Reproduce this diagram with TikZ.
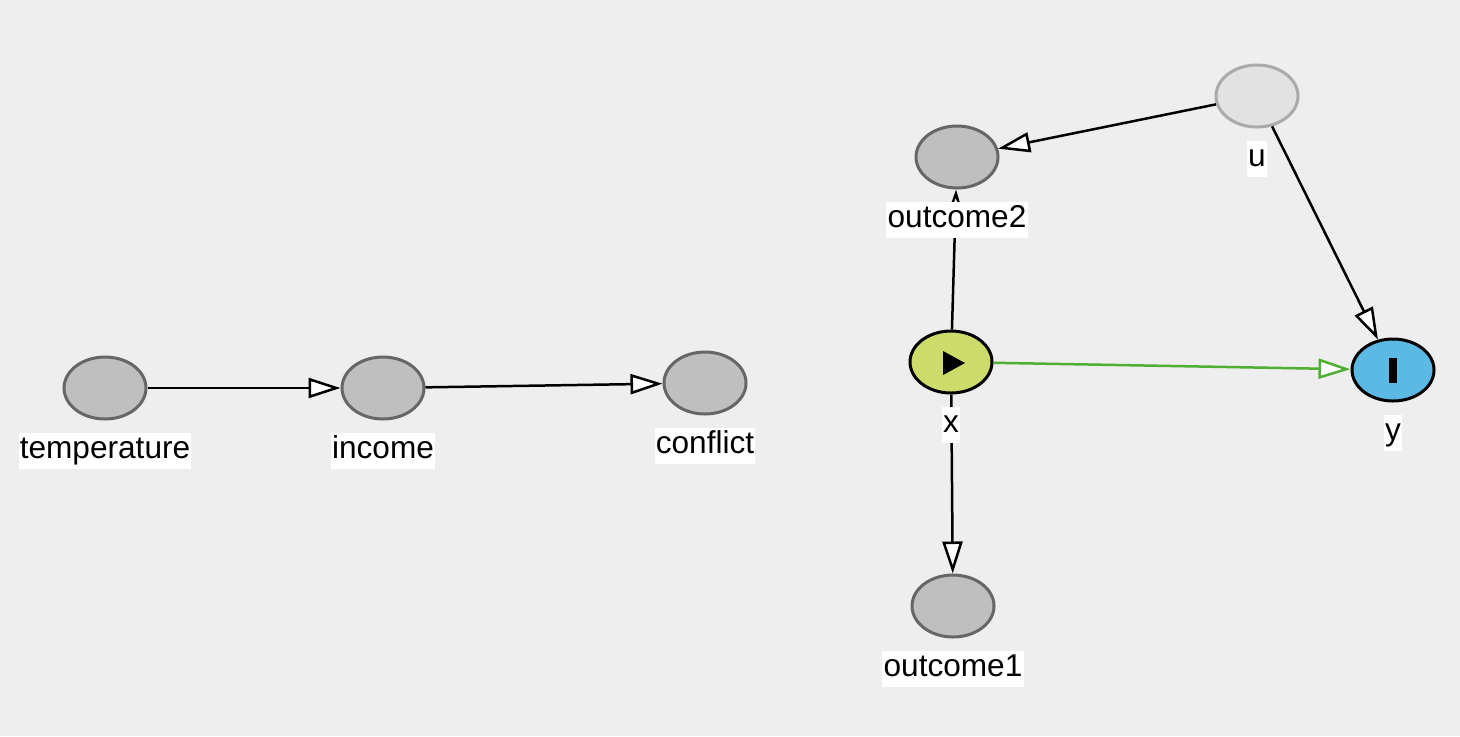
\documentclass[tikz,border=0pt]{standalone}
\usepackage{fontspec}
\setmainfont{Liberation Sans}
\usepackage{xcolor}
\usetikzlibrary{arrows.meta,positioning,shapes.geometric,calc}

\definecolor{bgcol}{HTML}{EEEEEE}
\definecolor{nodefill}{HTML}{BFBFBF}
\definecolor{nodeline}{HTML}{666666}
\definecolor{latfill}{HTML}{E2E2E2}
\definecolor{latline}{HTML}{AAAAAA}
\definecolor{expfill}{HTML}{CDDB6A}
\definecolor{outfill}{HTML}{5BB9E3}
\definecolor{causal}{HTML}{4FAF32}

\begin{document}
\begin{tikzpicture}[x=0.5pt,y=-0.5pt,>={Triangle[length=16pt,width=10pt,fill=white]},
  var/.style={ellipse,minimum width=41pt,minimum height=31pt,line width=1.5pt,
    draw=nodeline,fill=nodefill},
  latent/.style={var,draw=latline,fill=latfill},
  exposure/.style={var,draw=black,fill=expfill},
  outcome/.style={var,draw=black,fill=outfill},
  edge/.style={->,line width=1.25pt,black},
  lbl/.style={fill=white,inner xsep=0.6pt,inner ysep=1.5pt,text height=11.5pt,
    text depth=3.5pt,font=\fontsize{15.8}{18}\selectfont}]
  % background
  \fill[bgcol] (0,0) rectangle (1460,736);

  % variables
  \node[var] (temperature) at (105,388) {};
  \node[var] (income) at (383,388) {};
  \node[var] (conflict) at (705,383) {};
  \node[var] (outcome2) at (957,157) {};
  \node[latent] (u) at (1257,96) {};
  \node[exposure] (x) at (951,362) {};
  \node[outcome] (y) at (1393,370) {};
  \node[var] (outcome1) at (953,606) {};

  % markers
  \fill[black] ($(x)+(-8,-11)$) -- ($(x)+(-8,13)$) -- ($(x)+(14,1)$) -- cycle;
  \fill[black] ($(y)+(-4,-12)$) rectangle ($(y)+(4,13)$);

  % edges
  \draw[edge] (temperature) -- (income);
  \draw[edge] (income) -- (conflict);
  \draw[edge] (u) -- (outcome2);
  \draw[edge] (u) -- (y);
  \draw[edge] (x) -- (outcome2);
  \draw[edge] (x) -- (outcome1);
  \draw[edge,draw=causal,>={Triangle[length=16pt,width=10pt,fill=white,color=causal]}] (x) -- (y);

  % labels
  \node[lbl,below=6pt of temperature] (temperature-l) {temperature};
  \node[lbl,below=6pt of income] (income-l) {income};
  \node[lbl,below=6pt of conflict] (conflict-l) {conflict};
  \node[lbl,below=6pt of outcome2] (outcome2-l) {outcome2};
  \node[lbl,below=6pt of u] (u-l) {u};
  \node[lbl,below=6pt of x] (x-l) {x};
  \node[lbl,below=6pt of y] (y-l) {y};
  \node[lbl,below=6pt of outcome1] (outcome1-l) {outcome1};
\end{tikzpicture}
\end{document}
